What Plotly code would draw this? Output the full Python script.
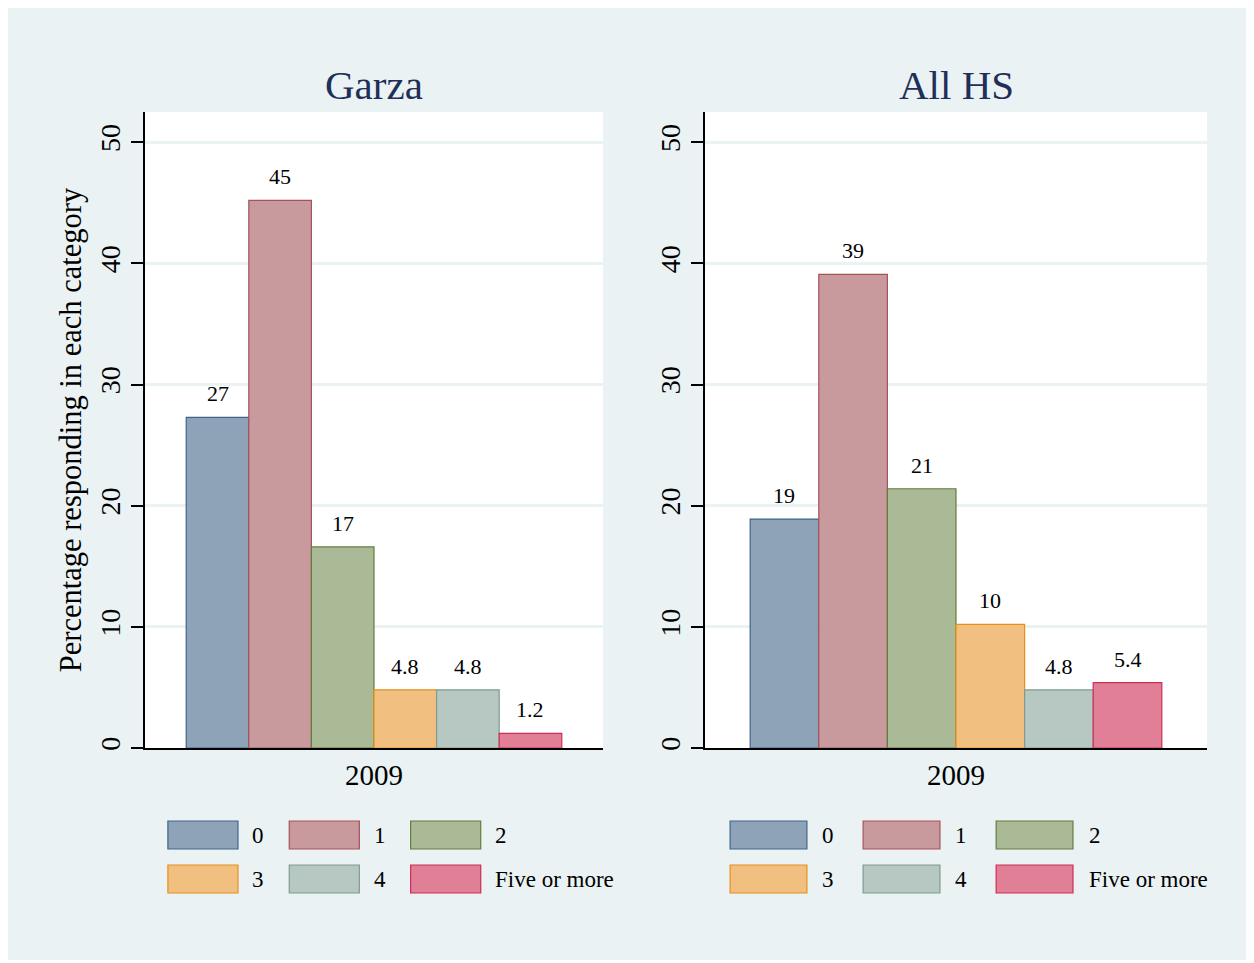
import plotly.graph_objects as go

categories = ["0", "1", "2", "3", "4", "Five or more"]
year = ["2009"]
garza = [27.3, 45.2, 16.6, 4.8, 4.8, 1.2]
all_hs = [18.9, 39.1, 21.4, 10.2, 4.8, 5.4]
panel_titles = ["Garza", "All HS"]
y_ticks = [0, 10, 20, 30, 40, 50]

fills = ["#8ea3b8", "#c89a9d", "#abba96", "#f1bf80", "#b7c7c1", "#e07f96"]
lines = ["#3f6489", "#a65259", "#617f3b", "#e8901a", "#7f9c90", "#cf2c56"]

BG = "#eaf2f3"
FONT = "Liberation Serif, Times New Roman, serif"
BARGAP = 0.18

# page body has an 8px margin; figure starts at (8, 8)
OFF = 8
W, H = 1242, 952
ml, mr, mt, mb = 137, 43, 104, 212
pw, ph = W - ml - mr, H - mt - mb


def px2x(px):
    return (px - OFF - ml) / pw


def py2y(py):
    return (H - mb - (py - OFF)) / ph


dom_left = [0, px2x(603)]
dom_right = [px2x(705), 1.0]
panel_px = [(dom_left[1] - dom_left[0]) * pw, (dom_right[1] - dom_right[0]) * pw]

fig = go.Figure()
annotations = []
for p, vals in enumerate([garza, all_hs]):
    xa = "x" if p == 0 else "x2"
    ya = "y" if p == 0 else "y2"
    bw = (1 - BARGAP) * panel_px[p] / len(categories)
    for i, c in enumerate(categories):
        fig.add_trace(go.Bar(
            x=year, y=[vals[i]], name=c, xaxis=xa, yaxis=ya,
            marker=dict(color=fills[i], line=dict(color=lines[i], width=1.2)),
            showlegend=False, hoverinfo="name+y",
        ))
        annotations.append(dict(
            text=f"{vals[i]:.2g}", xref=xa, yref=ya, x=0, y=vals[i],
            xshift=(i - (len(categories) - 1) / 2) * bw, yshift=9,
            xanchor="center", yanchor="bottom", showarrow=False,
            font=dict(size=22, color="black", family=FONT)))

axis_common = dict(showline=True, linecolor="black", linewidth=1.5, mirror=False)
yaxis_common = dict(range=[0, 52.5], tickvals=y_ticks, ticks="outside", ticklen=12,
                    tickwidth=1.5, tickcolor="black", tickangle=-90,
                    tickfont=dict(size=28), showgrid=True, gridcolor=BG, gridwidth=2.5,
                    zeroline=False, **axis_common)
fig.update_layout(
    width=W, height=H,
    margin=dict(l=ml, r=mr, t=mt, b=mb),
    paper_bgcolor=BG, plot_bgcolor="white",
    barmode="group", bargap=BARGAP, bargroupgap=0,
    font=dict(family=FONT, color="black"),
    xaxis=dict(domain=dom_left, type="category", ticks="",
               tickfont=dict(size=29), **axis_common),
    xaxis2=dict(domain=dom_right, type="category", ticks="",
                tickfont=dict(size=29), **axis_common),
    yaxis=dict(title=dict(text="Percentage responding in each category",
                          font=dict(size=30.5), standoff=4),
               **yaxis_common),
    yaxis2=dict(anchor="x2", **yaxis_common),
)

shapes = []
for p in range(2):
    xd = "x domain" if p == 0 else "x2 domain"
    annotations.append(dict(text=panel_titles[p], xref=xd, yref="paper", x=0.5, y=py2y(85),
                            xanchor="center", yanchor="middle", showarrow=False,
                            font=dict(size=41, color="#1e2f5a", family=FONT)))
    start, width, step = 0.05, 0.153, 0.265
    for i, c in enumerate(categories):
        row, col = divmod(i, 3)
        yc = py2y(835 + 44 * row)
        hh = 14 / ph
        x0 = start + col * step
        shapes.append(dict(type="rect", xref=xd, yref="paper", x0=x0, x1=x0 + width,
                           y0=yc - hh, y1=yc + hh, fillcolor=fills[i],
                           line=dict(color=lines[i], width=1.2)))
        annotations.append(dict(text=c, xref=xd, yref="paper", x=x0 + width + 0.027, y=yc,
                                xanchor="left", yanchor="middle", showarrow=False,
                                font=dict(size=23, color="black", family=FONT)))

fig.update_layout(shapes=shapes, annotations=annotations)
fig.write_html("out.html")
